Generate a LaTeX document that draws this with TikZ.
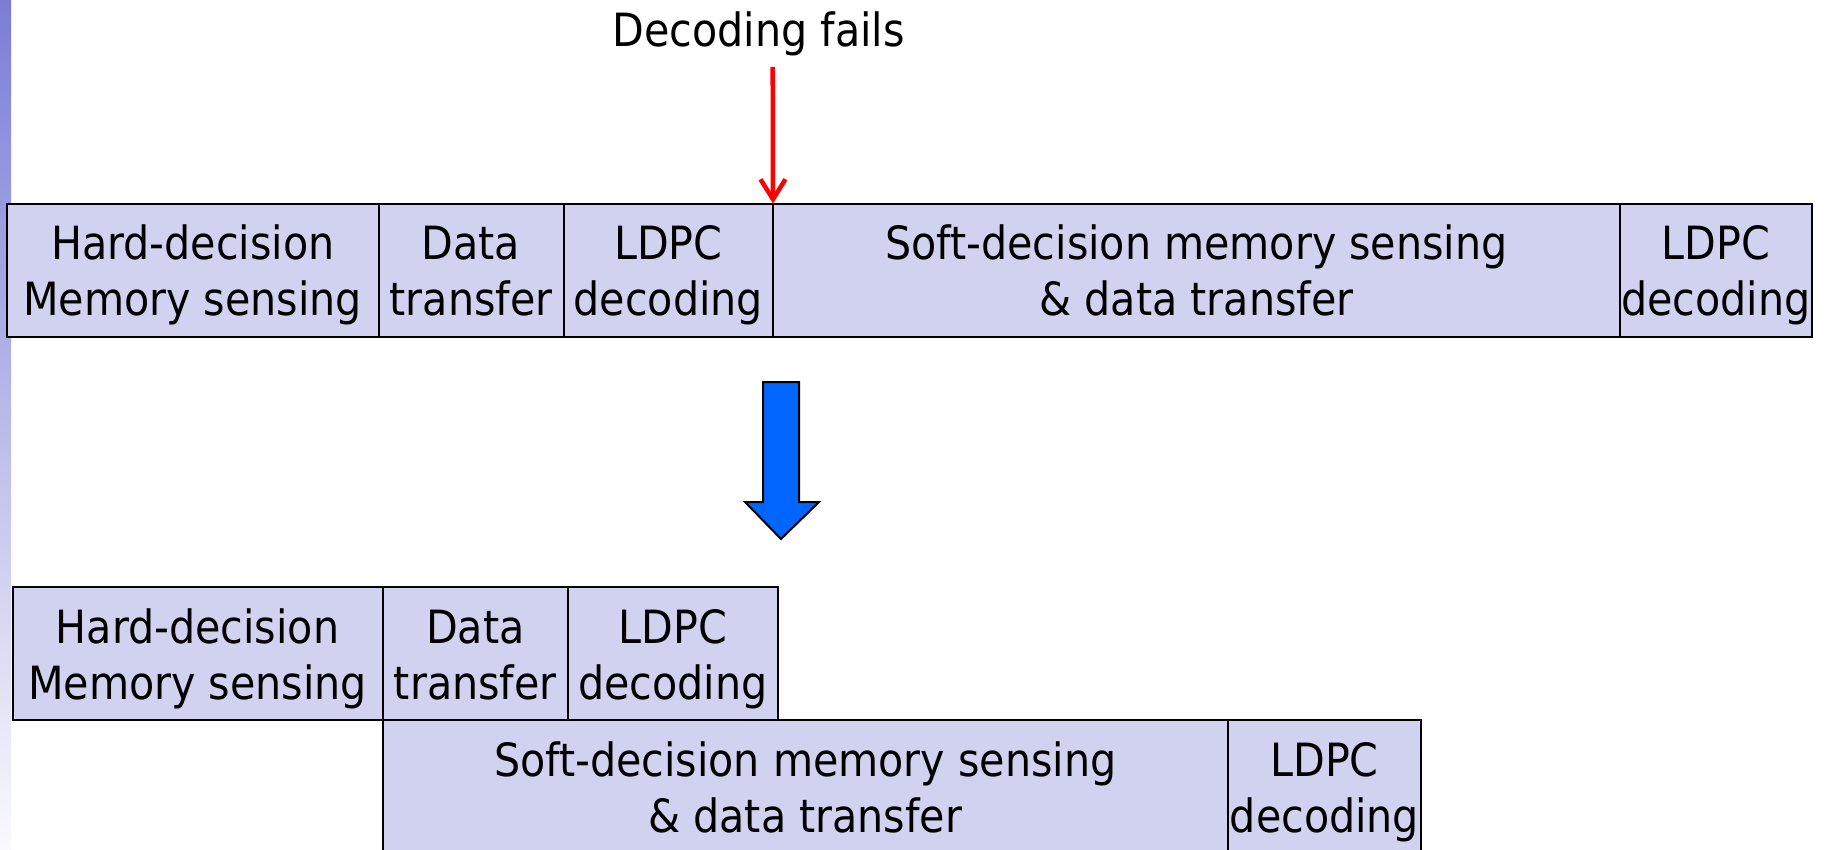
\documentclass[tikz,border=0pt]{standalone}
\usepackage{fontspec}
\setmainfont{DejaVu Sans Condensed}
\usetikzlibrary{arrows.meta}
\definecolor{slotfill}{RGB}{208,210,240}
\definecolor{blockblue}{RGB}{0,102,255}
\definecolor{bartop}{RGB}{124,124,216}
\definecolor{barbottom}{RGB}{250,250,253}

\begin{document}
\begin{tikzpicture}[x=1pt,y=-1pt,
  slot/.style={draw=black, line width=2pt, fill=slotfill, inner sep=0pt,
    outer sep=0pt, anchor=north west, align=center, minimum height=133pt,
    text height=91pt, text depth=0pt, font=\fontsize{45.8}{56}\selectfont},
  caption/.style={anchor=base, inner sep=0pt, font=\fontsize{45.8}{56}\selectfont},
  failarrow/.style={red, line width=4.5pt,
    -{Straight Barb[length=20pt,width=25pt,line width=4.5pt]}},
  blockarrow/.style={fill=blockblue, draw=black, line width=2pt, line join=miter}
  ]
\useasboundingbox (0,0) rectangle (1826,849);
\clip (0,0) rectangle (1826,849);

% side bar
\shade[top color=bartop, bottom color=barbottom] (0,0) rectangle (11,849);

% sequential schedule
\node[slot, minimum width=371.5pt] (th1) at (7,203.5)     {Hard-decision\\Memory sensing};
\node[slot, minimum width=185pt]   (th2) at (378.5,203.5) {Data\\transfer};
\node[slot, minimum width=209.5pt] (th3) at (563.5,203.5) {LDPC\\decoding};
\node[slot, minimum width=847pt]   (th4) at (773,203.5)   {Soft-decision memory sensing\\\& data transfer};
\node[slot, minimum width=192pt]   (th5) at (1620,203.5)  {LDPC\\decoding};

% failure marker
\node[caption] (fail) at (758.7,46) {Decoding fails};
\coordinate (failpt) at (772.7,67);
\draw[failarrow] (failpt) -- (th3.north east);

% transition arrow
\draw[blockarrow] (763,382) -- (799,382) -- (799,502) -- (819,502)
  -- (781,539) -- (745,502) -- (763,502) -- cycle;

% overlapped schedule
\node[slot, minimum width=370pt]   (bh1) at (12.5,587)   {Hard-decision\\Memory sensing};
\node[slot, minimum width=185.5pt] (bh2) at (382.5,587)  {Data\\transfer};
\node[slot, minimum width=210pt]   (bh3) at (568,587)    {LDPC\\decoding};
\node[slot, minimum width=845.5pt] (bh4) at (382.5,720)  {Soft-decision memory sensing\\\& data transfer};
\node[slot, minimum width=193pt]   (bh5) at (1228,720)   {LDPC\\decoding};
\end{tikzpicture}
\end{document}
